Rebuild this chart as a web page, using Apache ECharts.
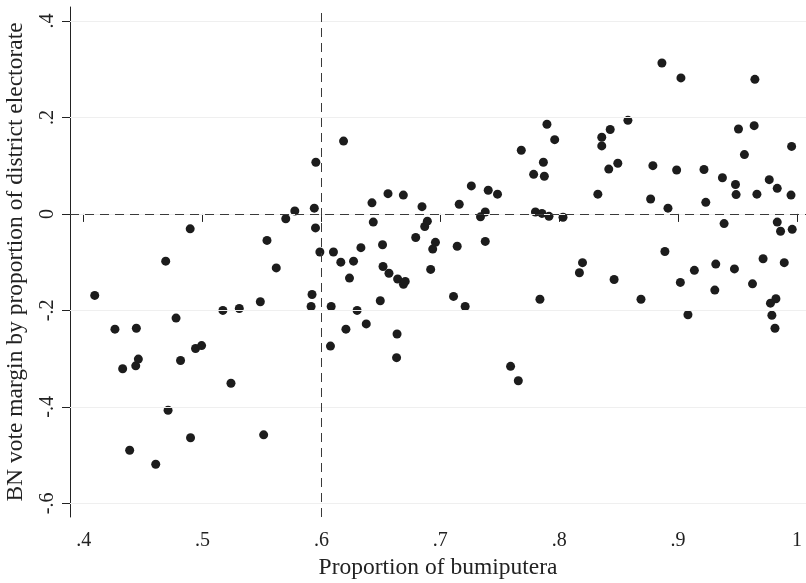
<!DOCTYPE html>
<html>
<head>
<meta charset="utf-8">
<script src="https://cdn.jsdelivr.net/npm/echarts@6/dist/echarts.min.js"></script>
<style>
  html, body { margin: 0; padding: 0; background: #fff; }
  #chart { width: 806px; height: 583px; }
</style>
</head>
<body>
<div id="chart"></div>
<script>
// proportion of bumiputera (x) and BN vote margin (y)
const bumiShare = [
  0.4093, 0.4263, 0.4443, 0.4328, 0.4438, 0.4460, 0.4387, 0.4606, 0.4690, 0.4710,
  0.4777, 0.4815, 0.4896, 0.4899, 0.4941, 0.4992, 0.5171, 0.5239, 0.5309, 0.5486,
  0.5514, 0.5542, 0.5620, 0.5700, 0.5776, 0.5913, 0.5921, 0.5940, 0.5953, 0.5950,
  0.5987, 0.6186, 0.6101, 0.6163, 0.6270, 0.6236, 0.6082, 0.6076, 0.6206, 0.6300,
  0.6332, 0.6377, 0.6425, 0.6436, 0.6495, 0.6514, 0.6518, 0.6560, 0.6568, 0.6632,
  0.6636, 0.6641, 0.6689, 0.6690, 0.6705, 0.6793, 0.6846, 0.6869, 0.6891, 0.6919,
  0.6936, 0.6959, 0.7111, 0.7142, 0.7159, 0.7209, 0.7261, 0.7338, 0.7378, 0.7378,
  0.7403, 0.7481, 0.7591, 0.7656, 0.7681, 0.7785, 0.7800, 0.7838, 0.7855, 0.7867,
  0.7875, 0.7897, 0.7914, 0.7962, 0.8032, 0.8170, 0.8196, 0.8325, 0.8358, 0.8358,
  0.8417, 0.8429, 0.8462, 0.8493, 0.8578, 0.8688, 0.8864, 0.9024, 0.9646, 0.9508,
  0.9640, 0.9955, 0.9558, 0.8788, 0.8988, 0.9218, 0.9373, 0.9483, 0.9767, 0.9834,
  0.9488, 0.9663, 0.9950, 0.8769, 0.8915, 0.9233, 0.9387, 0.9834, 0.9862, 0.9960,
  0.8889, 0.9715, 0.9893, 0.9317, 0.9474, 0.9137, 0.9019, 0.9626, 0.9309, 0.9823,
  0.9777, 0.9083, 0.9789, 0.9815
]
const bnMargin = [
  -0.169, -0.239, -0.237, -0.321, -0.315, -0.301, -0.490, -0.519, -0.098, -0.407,
  -0.216, -0.304, -0.031, -0.464, -0.279, -0.273, -0.200, -0.351, -0.196, -0.182,
  -0.458, -0.055, -0.112, -0.010, 0.006, -0.192, -0.167, 0.012, 0.107, -0.029,
  -0.079, 0.151, -0.079, -0.100, -0.098, -0.133, -0.192, -0.274, -0.239, -0.200,
  -0.070, -0.228, 0.023, -0.017, -0.180, -0.064, -0.109, 0.042, -0.123, -0.298,
  -0.249, -0.135, 0.039, -0.146, -0.140, -0.049, 0.015, -0.026, -0.015, -0.115,
  -0.073, -0.059, -0.171, -0.067, 0.020, -0.192, 0.058, -0.006, 0.004, -0.057,
  0.049, 0.041, -0.316, -0.346, 0.132, 0.082, 0.004, -0.177, 0.001, 0.107,
  0.078, 0.186, -0.005, 0.154, -0.007, -0.122, -0.101, 0.041, 0.159, 0.141,
  0.093, 0.175, -0.136, 0.105, 0.194, -0.177, 0.313, 0.282, 0.279, 0.176,
  0.183, 0.140, 0.123, 0.100, 0.091, 0.092, 0.075, 0.061, 0.071, 0.053,
  0.040, 0.041, 0.039, 0.031, 0.012, 0.024, -0.020, -0.017, -0.036, -0.032,
  -0.078, -0.093, -0.101, -0.104, -0.114, -0.117, -0.142, -0.145, -0.158, -0.176,
  -0.185, -0.209, -0.210, -0.237
]

const xTicks = [0.4, 0.5, 0.6, 0.7, 0.8, 0.9, 1]
const yTicks = [-0.6, -0.4, -0.2, 0, 0.2, 0.4]
const xCutoff = 0.6
const yCutoff = 0

const stataLabel = v => (v === 0 ? '0' : String(v).replace('0.', '.'))
const font = '"Liberation Serif", "DejaVu Serif", serif'

const points = bumiShare.map((x, i) => [x, bnMargin[i]])

const chart = echarts.init(document.getElementById('chart'))
chart.setOption({
  animation: false,
  backgroundColor: '#fff',
  grid: { left: 70, right: 0, top: 7, bottom: 66, outerBoundsMode: 'none', containLabel: false },
  xAxis: {
    type: 'value',
    min: 0.3885,
    max: 1.0076,
    name: 'Proportion of bumiputera',
    nameLocation: 'middle',
    nameGap: 36,
    nameTextStyle: { fontFamily: font, fontSize: 23.5, color: '#222' },
    axisLine: { show: true, lineStyle: { color: '#222', width: 1 } },
    axisTick: { show: true, customValues: xTicks, length: 8, lineStyle: { color: '#222' } },
    axisLabel: {
      customValues: xTicks,
      formatter: stataLabel,
      fontFamily: font,
      fontSize: 20,
      color: '#222',
      margin: 14
    },
    splitLine: { show: false }
  },
  yAxis: {
    type: 'value',
    min: -0.6284,
    max: 0.429,
    name: 'BN vote margin by proportion of district electorate',
    nameLocation: 'middle',
    nameGap: 42,
    nameTextStyle: { fontFamily: font, fontSize: 23.5, color: '#222' },
    axisLine: { show: true, lineStyle: { color: '#222', width: 1 } },
    axisTick: { show: true, customValues: yTicks, length: 8, lineStyle: { color: '#222' } },
    axisLabel: {
      customValues: yTicks,
      formatter: stataLabel,
      rotate: 90,
      fontFamily: font,
      fontSize: 20,
      color: '#222',
      margin: 12
    },
    splitLine: { show: false }
  },
  series: [
    {
      // faint horizontal grid lines
      type: 'scatter',
      data: [],
      z: 1,
      silent: true,
      markLine: {
        silent: true,
        symbol: 'none',
        label: { show: false },
        lineStyle: { color: '#efefef', width: 1, type: 'solid' },
        data: yTicks.map(v => ({ yAxis: v }))
      }
    },
    {
      type: 'scatter',
      data: points,
      symbol: 'circle',
      symbolSize: 9,
      z: 3,
      itemStyle: { color: '#1c1c1c', opacity: 1 },
      markLine: {
        silent: true,
        symbol: 'none',
        label: { show: false },
        lineStyle: { color: '#3a3a3a', width: 1, type: [9, 6] },
        data: [{ xAxis: xCutoff }, { yAxis: yCutoff }]
      }
    }
  ]
})
</script>
</body>
</html>
